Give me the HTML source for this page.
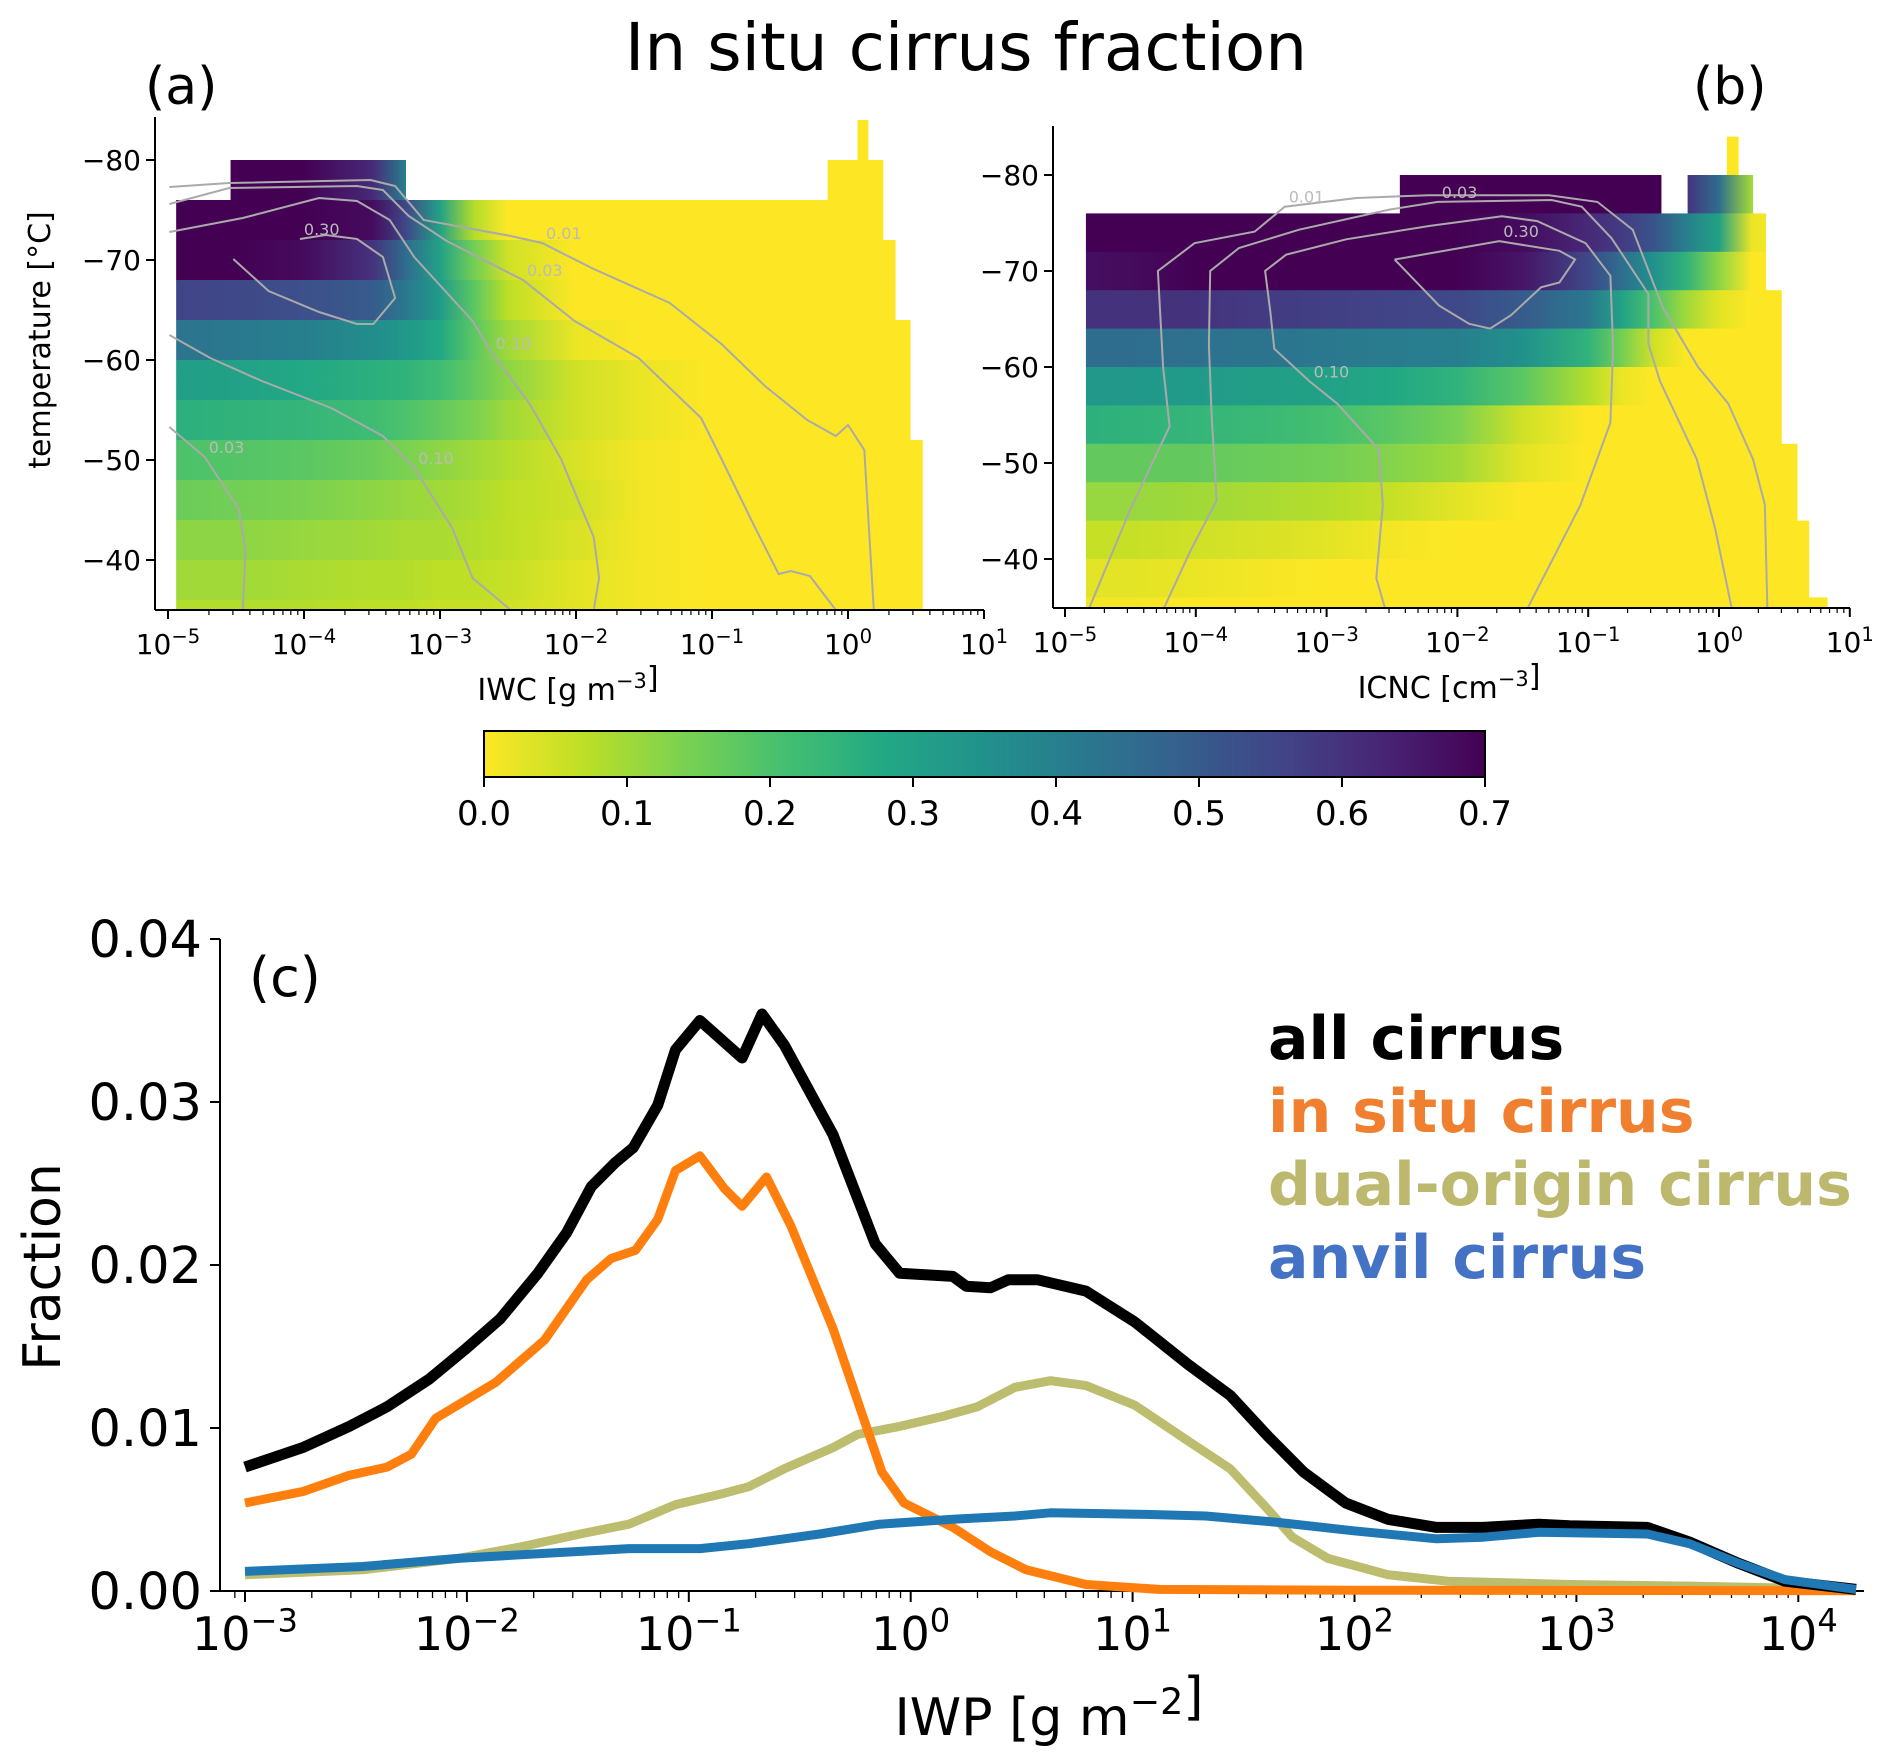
<!DOCTYPE html>
<html><head><meta charset="utf-8"><style>
html,body{margin:0;padding:0;background:#fff}
svg{display:block;font-family:"DejaVu Sans","Liberation Sans",sans-serif}
</style></head><body>
<svg id="fig" width="1892" height="1755" viewBox="0 0 1892 1755" xmlns="http://www.w3.org/2000/svg">
<defs id="defs"></defs>
<text x="966" y="70" font-size="66" text-anchor="middle">In situ cirrus fraction</text>
<text x="145" y="104" font-size="52">(a)</text>
<text x="1693" y="104" font-size="52">(b)</text>
<g id="pa"></g>
<g id="pb"></g>
<g id="cb"></g>
<g id="pc"></g>
</svg>
<script>
// ---------- Panel (c) data ----------
const iwpLog = [-3,-2.74,-2.53,-2.36,-2.17,-2.01,-1.85,-1.68,-1.55,-1.44,-1.33,-1.25,-1.14,-1.06,-0.95,-0.76,-0.67,-0.57,-0.35,-0.16,-0.05,0.19,0.25,0.36,0.44,0.57,0.79,1.01,1.25,1.44,1.61,1.77,1.96,2.15,2.37,2.58,2.83,2.97,3.32,3.51,3.73,3.94,4.26];
const allCirrus = [0.0076,0.0088,0.0101,0.0113,0.0130,0.0148,0.0167,0.0195,0.0220,0.0248,0.0263,0.0272,0.0298,0.0332,0.0350,0.0327,0.0354,0.0335,0.0280,0.0213,0.0195,0.0193,0.0187,0.0186,0.0191,0.0191,0.0184,0.0165,0.0139,0.0120,0.0095,0.0073,0.0054,0.0044,0.0039,0.0039,0.0041,0.0040,0.0039,0.0030,0.0017,0.0006,0.0001];
const inSituLog = [-3,-2.74,-2.53,-2.36,-2.25,-2.14,-1.87,-1.65,-1.46,-1.35,-1.24,-1.14,-1.06,-0.95,-0.84,-0.76,-0.65,-0.54,-0.35,-0.24,-0.13,-0.03,0.19,0.36,0.52,0.79,1.12,2,3,4.26];
const inSitu = [0.0054,0.0061,0.0071,0.0076,0.0084,0.0106,0.0128,0.0154,0.0191,0.0204,0.0209,0.0228,0.0258,0.0267,0.0247,0.0236,0.0254,0.0224,0.0161,0.0117,0.0073,0.0054,0.0039,0.0024,0.0013,0.0004,0.0001,0.00005,0.00003,0.00002];
const dualLog = [-3,-2.47,-2.04,-1.76,-1.49,-1.27,-1.06,-0.84,-0.73,-0.57,-0.35,-0.24,-0.05,0.14,0.3,0.47,0.63,0.79,1.01,1.25,1.44,1.61,1.72,1.88,2.15,2.42,2.97,3.51,4.26];
const dualOrigin = [0.0010,0.0013,0.0020,0.0027,0.0035,0.0041,0.0053,0.0060,0.0064,0.0075,0.0088,0.0096,0.0101,0.0107,0.0113,0.0125,0.0129,0.0126,0.0114,0.0092,0.0075,0.0050,0.0033,0.0020,0.0010,0.0006,0.0004,0.0003,0.0001];
const anvilLog = [-3,-2.47,-2.04,-1.66,-1.27,-0.95,-0.73,-0.41,-0.14,0.19,0.47,0.63,1.06,1.33,1.66,1.99,2.37,2.58,2.83,3.32,3.51,3.73,3.94,4.26];
const anvil = [0.0012,0.0015,0.0020,0.0023,0.0026,0.0026,0.0029,0.0035,0.0041,0.0044,0.0046,0.0048,0.0047,0.0046,0.0042,0.0037,0.0032,0.0033,0.0036,0.0035,0.0029,0.0017,0.0007,0.0001];
const cYTicks = [0,0.01,0.02,0.03,0.04];
const cYTickLabels = ["0.00","0.01","0.02","0.03","0.04"];
const cXDecades = [-3,-2,-1,0,1,2,3,4];

// ---------- Heatmap data (a) ----------
const gridA = [-5,-4.5,-4,-3.5,-3.25,-3,-2.75,-2.5,-2,-1.5,-1,-0.5,0,0.5,1];
const aTop = [-84,-80,-80,-76,-72,-68,-64,-60,-56,-52,-48,-44,-40,-36];
const aStart = [0.07,-4.54,-0.15,-4.94,-4.94,-4.94,-4.94,-4.94,-4.94,-4.94,-4.94,-4.94,-4.94,-4.94];
const aEnd = [0.15,-3.25,0.26,0.26,0.35,0.35,0.46,0.46,0.46,0.55,0.55,0.55,0.55,0.55];
const aVals = [
 [0,0,0,0,0,0,0,0,0,0,0,0,0,0,0],
 [0.7,0.7,0.7,0.62,0.4,0.3,0.3,0.3,0.3,0.3,0.3,0.3,0.3,0.3,0.3],
 [0,0,0,0,0,0,0,0,0,0,0,0,0,0,0],
 [0.7,0.7,0.7,0.68,0.55,0.3,0.08,0,0,0,0,0,0,0,0],
 [0.7,0.7,0.68,0.6,0.45,0.3,0.15,0.05,0,0,0,0,0,0,0],
 [0.56,0.55,0.53,0.5,0.42,0.32,0.18,0.07,0,0,0,0,0,0,0],
 [0.43,0.42,0.4,0.36,0.33,0.28,0.18,0.1,0.02,0,0,0,0,0,0],
 [0.31,0.3,0.28,0.26,0.25,0.22,0.17,0.12,0.05,0.02,0,0,0,0,0],
 [0.26,0.25,0.24,0.22,0.2,0.17,0.14,0.1,0.05,0.02,0,0,0,0,0],
 [0.2,0.19,0.18,0.16,0.14,0.12,0.1,0.08,0.04,0.01,0,0,0,0,0],
 [0.16,0.15,0.14,0.12,0.11,0.1,0.09,0.07,0.05,0.01,0,0,0,0,0],
 [0.12,0.12,0.11,0.1,0.09,0.09,0.08,0.07,0.04,0.01,0,0,0,0,0],
 [0.1,0.1,0.09,0.08,0.08,0.07,0.07,0.06,0.03,0.01,0,0,0,0,0],
 [0.08,0.08,0.08,0.07,0.07,0.06,0.06,0.05,0.03,0.01,0,0,0,0,0]
];
// ---------- Heatmap data (b) ----------
const gridB = [-5,-4.5,-4,-3.5,-3,-2.5,-2,-1.5,-1,-0.75,-0.5,-0.25,0,0.25,0.5,1];
const bTop = [-84,-80,-80,-76,-72,-68,-64,-60,-56,-52,-48,-44,-40,-36];
const bStart = [0.06,-2.44,-0.24,-4.84,-4.84,-4.84,-4.84,-4.84,-4.84,-4.84,-4.84,-4.84,-4.84,-4.84];
const bEnd = [0.15,-0.44,0.26,0.36,0.36,0.48,0.48,0.48,0.48,0.6,0.6,0.69,0.69,0.83];
const bVals = [
 [0,0,0,0,0,0,0,0,0,0,0,0,0,0,0,0],
 [0.7,0.7,0.7,0.7,0.7,0.7,0.7,0.7,0.7,0.7,0.7,0.7,0.7,0.7,0.7,0.7],
 [0.6,0.6,0.6,0.6,0.6,0.6,0.6,0.6,0.6,0.6,0.6,0.6,0.45,0.1,0.1,0.1],
 [0.7,0.7,0.7,0.7,0.7,0.7,0.7,0.68,0.62,0.58,0.52,0.4,0.3,0.02,0,0],
 [0.67,0.68,0.7,0.7,0.7,0.7,0.7,0.66,0.55,0.45,0.35,0.25,0.12,0,0,0],
 [0.6,0.6,0.6,0.58,0.57,0.56,0.55,0.5,0.42,0.3,0.2,0.1,0.03,0,0,0],
 [0.45,0.45,0.44,0.43,0.42,0.41,0.4,0.35,0.25,0.15,0.05,0,0,0,0,0],
 [0.33,0.33,0.32,0.31,0.3,0.28,0.25,0.18,0.08,0.02,0,0,0,0,0,0],
 [0.26,0.25,0.24,0.23,0.21,0.18,0.14,0.05,0,0,0,0,0,0,0,0],
 [0.17,0.17,0.17,0.16,0.15,0.13,0.1,0.03,0,0,0,0,0,0,0,0],
 [0.11,0.11,0.1,0.09,0.08,0.06,0.03,0,0,0,0,0,0,0,0,0],
 [0.06,0.06,0.05,0.04,0.03,0.01,0,0,0,0,0,0,0,0,0,0],
 [0.03,0.03,0.02,0.01,0,0,0,0,0,0,0,0,0,0,0,0],
 [0.01,0.01,0,0,0,0,0,0,0,0,0,0,0,0,0,0]
];
// contours [logx, temp]
const aContours = [
 {lev:"0.01",li:6,pts:[[-4.99,-77.3],[-4.55,-77.7],[-3.51,-78.0],[-3.33,-77.4],[-3.12,-74.0],[-2.48,-72.4],[-2.25,-71.7],[-1.87,-69.1],[-1.31,-65.7],[-0.93,-61.6],[-0.61,-57.4],[-0.30,-54.0],[-0.09,-52.4],[0.0,-53.5],[0.12,-51.0],[0.19,-35]]},
 {lev:"0.03",li:6,pts:[[-4.99,-75.6],[-4.55,-77.2],[-3.61,-77.4],[-3.42,-77.0],[-3.23,-74.4],[-2.95,-71.9],[-2.39,-68.0],[-2.01,-63.9],[-1.54,-60.2],[-1.08,-54.2],[-0.93,-50.1],[-0.70,-43.7],[-0.51,-38.6],[-0.42,-38.9],[-0.28,-38.4],[-0.09,-35]]},
 {lev:"0.10",li:7,pts:[[-4.99,-72.8],[-4.45,-74.2],[-3.89,-76.2],[-3.61,-75.9],[-3.37,-74.0],[-3.19,-70.3],[-2.76,-63.9],[-2.62,-60.7],[-2.34,-55.6],[-2.11,-50.1],[-1.97,-45.5],[-1.87,-42.3],[-1.83,-38.2],[-1.87,-35]]},
 {lev:"0.30",li:9,pts:[[-4.52,-70.1],[-4.26,-66.9],[-3.89,-64.8],[-3.61,-63.6],[-3.49,-63.6],[-3.33,-66.2],[-3.42,-70.3],[-3.61,-72.1],[-3.84,-72.5],[-4.03,-72.1]]},
 {lev:"0.10",li:5,pts:[[-4.99,-62.5],[-4.69,-60.2],[-4.31,-57.9],[-3.80,-55.2],[-3.42,-52.4],[-3.19,-49.2],[-2.91,-43.2],[-2.76,-38.2],[-2.48,-35]]},
 {lev:"0.03",li:1,pts:[[-4.99,-53.3],[-4.73,-50.3],[-4.48,-45.1],[-4.43,-40.9],[-4.45,-35]]}
];
const bContours = [
 {lev:"0.01",li:7,pts:[[-4.82,-34.7],[-4.5,-45.2],[-4.2,-53.8],[-4.25,-60.0],[-4.29,-70.0],[-4.01,-72.9],[-3.55,-74.1],[-3.32,-76.7],[-2.77,-77.6],[-2.22,-77.9],[-1.3,-77.9],[-0.93,-77.2],[-0.66,-74.3],[-0.43,-66.2],[-0.16,-60.0],[0.07,-56.2],[0.26,-50.4],[0.35,-45.7],[0.37,-34.7]]},
 {lev:"0.03",li:9,pts:[[-4.25,-34.7],[-4.04,-40.9],[-3.84,-46.1],[-3.88,-55.2],[-3.9,-62.3],[-3.89,-70.0],[-3.67,-72.4],[-3.21,-74.3],[-2.52,-76.4],[-2.15,-77.2],[-1.28,-77.4],[-1.05,-76.7],[-0.82,-73.4],[-0.54,-67.6],[-0.54,-62.4],[-0.45,-58.5],[-0.17,-50.4],[-0.03,-43.2],[0.1,-34.7]]},
 {lev:"0.10",li:5,pts:[[-2.55,-34.7],[-2.62,-38.0],[-2.57,-45.6],[-2.6,-51.4],[-2.92,-56.2],[-3.13,-58.5],[-3.4,-61.9],[-3.43,-65.7],[-3.47,-70.0],[-3.31,-71.7],[-2.85,-73.3],[-2.21,-74.7],[-1.66,-75.7],[-1.39,-75.2],[-1.02,-72.9],[-0.83,-69.5],[-0.81,-61.9],[-0.83,-54.2],[-1.06,-45.6],[-1.47,-34.7]]},
 {lev:"0.30",li:9,pts:[[-2.48,-71.2],[-2.14,-66.4],[-1.91,-64.5],[-1.75,-64.0],[-1.59,-65.4],[-1.36,-68.3],[-1.22,-68.8],[-1.1,-71.2],[-1.22,-72.1],[-1.68,-73.1],[-2.48,-71.2]]}
];
const cbTicks = [0,0.1,0.2,0.3,0.4,0.5,0.6,0.7];

// ---------- helpers ----------
const NS="http://www.w3.org/2000/svg";
function mk(tag, attrs, parent){const e=document.createElementNS(NS,tag);for(const k in attrs)e.setAttribute(k,attrs[k]);parent.appendChild(e);return e;}
const VIR=[[0,"#440154"],[0.1,"#482475"],[0.2,"#414487"],[0.3,"#355f8d"],[0.4,"#2a788e"],[0.5,"#21918c"],[0.6,"#22a884"],[0.7,"#44bf70"],[0.8,"#7ad151"],[0.9,"#bddf26"],[1,"#fde725"]];
function hx(h){return [1,3,5].map(i=>parseInt(h.substr(i,2),16));}
function viridis(t){t=Math.max(0,Math.min(1,t));for(let i=0;i<VIR.length-1;i++){if(t<=VIR[i+1][0]){const f=(t-VIR[i][0])/(VIR[i+1][0]-VIR[i][0]);const a=hx(VIR[i][1]),b=hx(VIR[i+1][1]);return "rgb("+a.map((v,j)=>Math.round(v+(b[j]-v)*f)).join(",")+")";}}return VIR[10][1];}
function cmap(v){return viridis(1-v/0.7);}
const defs=document.getElementById('defs');
let gid=0;

function sup(parent,x,y,base,exp,fs,anchor){
  const t=mk('text',{x:x,y:y,'font-size':fs,'text-anchor':anchor||'middle'},parent);
  t.appendChild(document.createTextNode(base));
  const s=mk('tspan',{dy:-fs*0.4,'font-size':fs*0.7},t);s.textContent=exp;
  return t;
}

function heatPanel(g, ax, grid, tops, starts, ends, vals, contours, xlab){
  const X=e=>ax.x0+(e-ax.e0)*ax.dec;
  const Y=T=>ax.yRef+(T-ax.tRef)*ax.deg;
  const clipId='clip'+(gid++);
  const cp=mk('clipPath',{id:clipId},defs);
  mk('rect',{x:ax.axL,y:ax.top,width:ax.axR-ax.axL,height:ax.bot-ax.top},cp);
  const hm=mk('g',{'clip-path':'url(#'+clipId+')'},g);
  
  
  for(let r=0;r<tops.length;r++){
    const id='grad'+(gid++);
    const lg=mk('linearGradient',{id:id,gradientUnits:'userSpaceOnUse',x1:X(grid[0]),y1:0,x2:X(grid[grid.length-1]),y2:0},defs);
    const span=grid[grid.length-1]-grid[0];
    grid.forEach((e,i)=>{mk('stop',{offset:((e-grid[0])/span).toFixed(4),'stop-color':cmap(vals[r][i])},lg);});
    const y0=Y(tops[r]), y1=Y(tops[r]+4);
    const rc=mk('rect',{x:X(starts[r]),y:y0,width:X(ends[r])-X(starts[r]),height:y1-y0+0.5,fill:'url(#'+id+')'},hm);
    
    
  }
  contours.forEach(c=>{
    const p=mk('polyline',{points:c.pts.map(q=>X(q[0]).toFixed(1)+','+Y(q[1]).toFixed(1)).join(' '),fill:'none',stroke:'#aaaaaa','stroke-width':2},hm);
    
    
    const m=c.pts[c.li];
    const lt=mk('text',{x:X(m[0])+4,y:Y(m[1])-4,'font-size':16,fill:'#bbbbbb'},hm);
    lt.textContent=c.lev;
    
    
  });
  mk('line',{x1:ax.axL,y1:ax.top,x2:ax.axL,y2:ax.bot,stroke:'#000','stroke-width':2},g);
  mk('line',{x1:ax.axL,y1:ax.bot,x2:ax.axR,y2:ax.bot,stroke:'#000','stroke-width':2},g);
  [-80,-70,-60,-50,-40].forEach(T=>{
    mk('line',{x1:ax.axL-9,y1:Y(T),x2:ax.axL,y2:Y(T),stroke:'#000','stroke-width':2},g);
    const t=mk('text',{x:ax.axL-14,y:Y(T)+10,'font-size':28,'text-anchor':'end'},g);
    t.textContent='\u2212'+Math.abs(T);
    
    
  });
  for(let d=-5;d<=1;d++){
    mk('line',{x1:X(d),y1:ax.bot,x2:X(d),y2:ax.bot+9,stroke:'#000','stroke-width':2},g);
    const t=sup(g,X(d),ax.bot+44,'10',d<0?'\u2212'+(-d):String(d),28);
    
    
    if(d<1)for(let k=2;k<10;k++){const xx=X(d+Math.log10(k));mk('line',{x1:xx,y1:ax.bot,x2:xx,y2:ax.bot+5,stroke:'#000','stroke-width':1.2},g);}
  }
  const xl=sup(g,ax.xlabX,ax.bot+90,xlab[0],xlab[1],30);
  xl.lastChild.after(document.createTextNode(']'));
  
  
}

const pa=document.getElementById('pa');
heatPanel(pa,{x0:168,e0:-5,dec:136,yRef:160,tRef:-80,deg:10,axL:155,axR:984,top:117,bot:610,xlabX:568},gridA,aTop,aStart,aEnd,aVals,aContours,['IWC [g m','\u22123']);
const yl=mk('text',{x:0,y:0,'font-size':30,'text-anchor':'middle',transform:'translate(50,340) rotate(-90)'},pa);
yl.textContent='temperature [\u00B0C]';


const pb=document.getElementById('pb');
heatPanel(pb,{x0:1065,e0:-5,dec:130.8,yRef:175,tRef:-80,deg:9.6,axL:1053,axR:1850,top:126,bot:608,xlabX:1449},gridB,bTop,bStart,bEnd,bVals,bContours,['ICNC [cm','\u22123']);

// colorbar
const cb=document.getElementById('cb');
const cgid='cbgrad';
const clg=mk('linearGradient',{id:cgid,x1:0,y1:0,x2:1,y2:0},defs);
for(let i=0;i<=20;i++){mk('stop',{offset:i/20,'stop-color':cmap(0.7*i/20)},clg);}
const cbX=v=>484+(v/0.7)*(1485-484);
const cbr=mk('rect',{x:484,y:731,width:1001,height:46,fill:'url(#'+cgid+')',stroke:'#000','stroke-width':2},cb);


cbTicks.forEach(v=>{
  mk('line',{x1:cbX(v),y1:777,x2:cbX(v),y2:787,stroke:'#000','stroke-width':2},cb);
  const t=mk('text',{x:cbX(v),y:825,'font-size':34,'text-anchor':'middle'},cb);
  t.textContent=v.toFixed(1);
  
  
});

// panel c
const pc=document.getElementById('pc');
const cx=L=>245+(L+3)*221.9;
const cy=v=>1591-v*16300;
mk('line',{x1:220,y1:939,x2:220,y2:1591,stroke:'#000','stroke-width':2},pc);
mk('line',{x1:220,y1:1591,x2:1864,y2:1591,stroke:'#000','stroke-width':2},pc);
cYTicks.forEach((v,i)=>{
  mk('line',{x1:210,y1:cy(v),x2:220,y2:cy(v),stroke:'#000','stroke-width':2},pc);
  const t=mk('text',{x:202,y:cy(v)+18,'font-size':51,'text-anchor':'end'},pc);
  t.textContent=cYTickLabels[i];
  
  
});
cXDecades.forEach(d=>{
  mk('line',{x1:cx(d),y1:1591,x2:cx(d),y2:1602,stroke:'#000','stroke-width':2},pc);
  const t=sup(pc,cx(d),1650,'10',d<0?'\u2212'+(-d):String(d),46);
  
  
  for(let k=2;k<10;k++){const L=d+Math.log10(k);if(cx(L)<1864)mk('line',{x1:cx(L),y1:1591,x2:cx(L),y2:1598,stroke:'#000','stroke-width':1.3},pc);}
});
mk('line',{x1:cx(-3-Math.log10(10/9)),y1:1591,x2:cx(-3-Math.log10(10/9)),y2:1598,stroke:'#000','stroke-width':1.3},pc);
const series=[
 {x:dualLog,y:dualOrigin,c:'#bcbd6e',w:9,n:'dual-origin-cirrus-line'},
 {x:inSituLog,y:inSitu,c:'#ff7f0e',w:9,n:'in-situ-cirrus-line'},
 {x:iwpLog,y:allCirrus,c:'#000000',w:11,n:'all-cirrus-line'},
 {x:anvilLog,y:anvil,c:'#1f77b4',w:9,n:'anvil-cirrus-line'}
];
series.forEach(s=>{
  const p=mk('polyline',{points:s.x.map((L,i)=>cx(L).toFixed(1)+','+cy(s.y[i]).toFixed(1)).join(' '),fill:'none',stroke:s.c,'stroke-width':s.w,'stroke-linejoin':'round'},pc);
  
  
});
const lab=mk('text',{x:249,y:996,'font-size':54},pc);lab.textContent='(c)';


const legend=[["all cirrus","#000000"],["in situ cirrus","#f08030"],["dual-origin cirrus","#bcb86e"],["anvil cirrus","#4472c4"]];
legend.forEach((l,i)=>{
  const t=mk('text',{x:1268,y:1059+i*73,'font-size':60,'font-weight':'bold',fill:l[1]},pc);
  t.textContent=l[0];
  
  
});
const fy=mk('text',{x:0,y:0,'font-size':52,'text-anchor':'middle',transform:'translate(60,1267) rotate(-90)'},pc);
fy.textContent='Fraction';


const fx=sup(pc,1049,1735,'IWP [g m','\u22122',52);
fx.lastChild.after(document.createTextNode(']'));


</script>
</body></html>
